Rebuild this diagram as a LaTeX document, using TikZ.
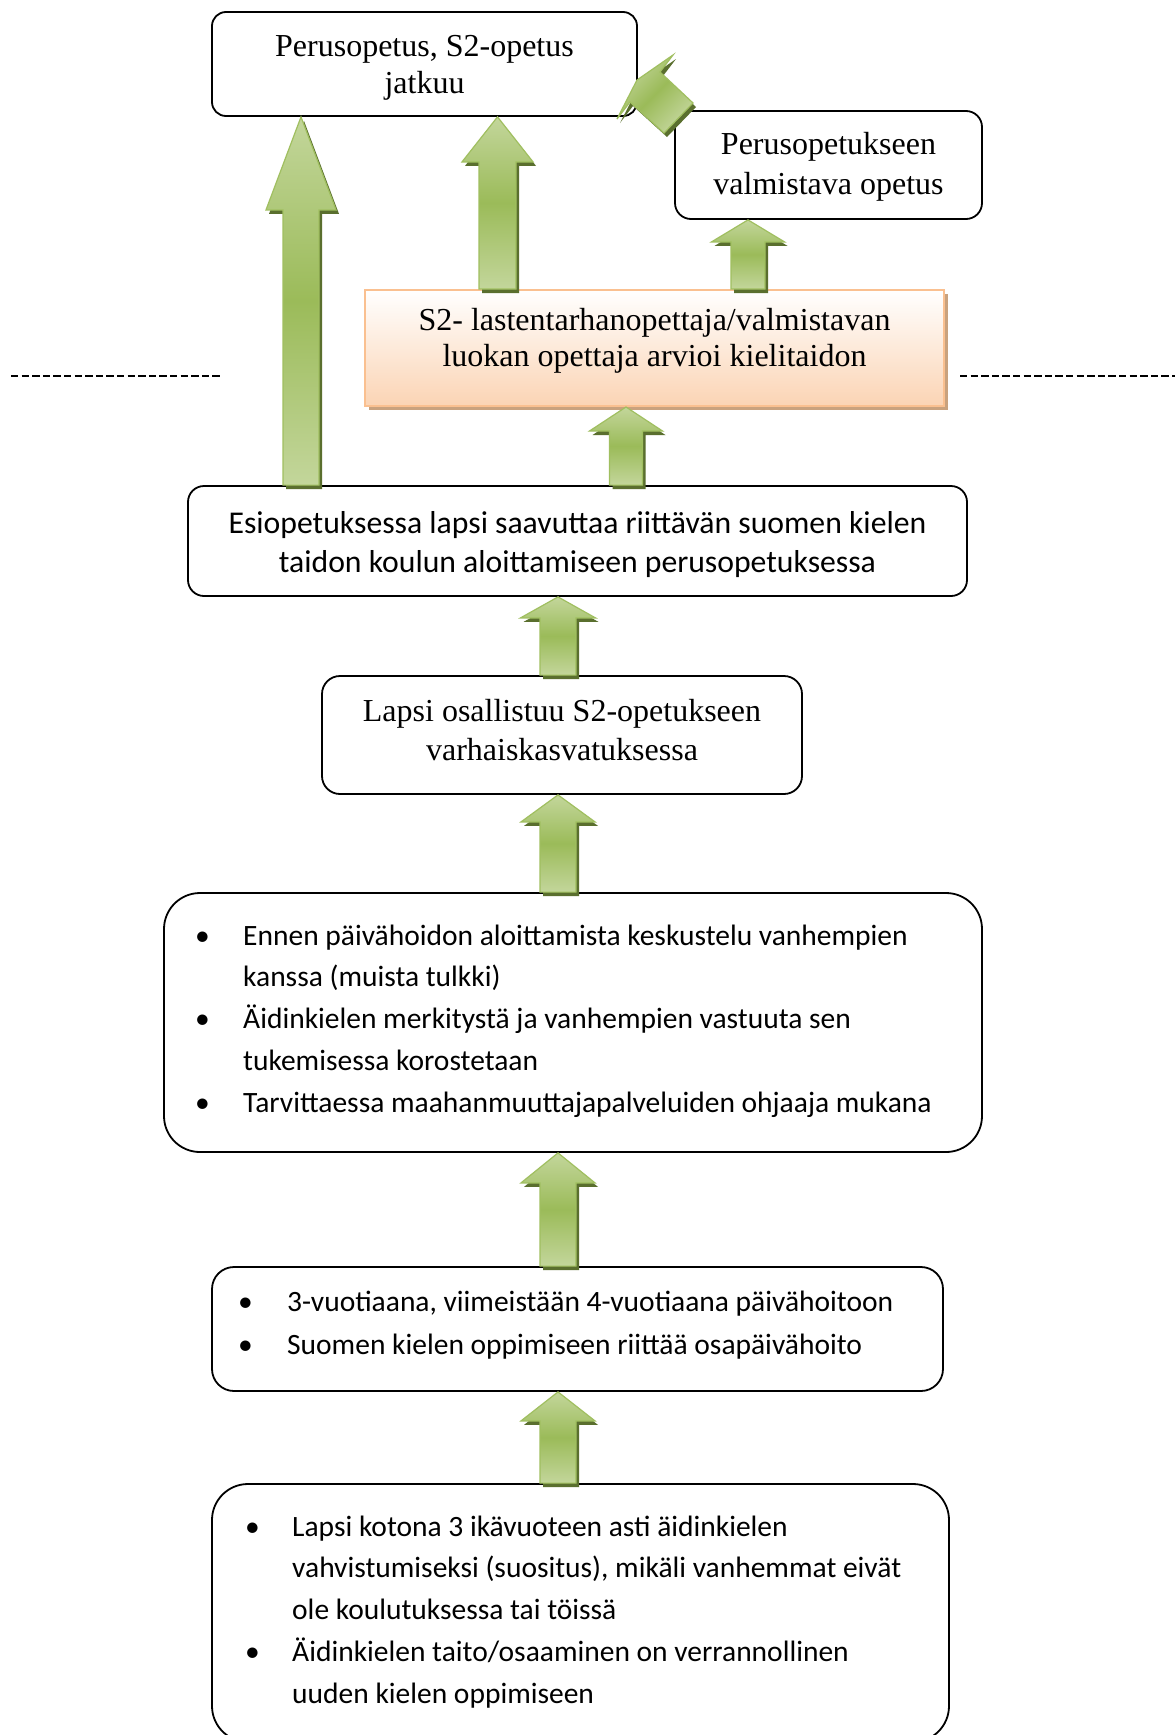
\documentclass[tikz,border=0pt]{standalone}
\usepackage{fontspec}
\setmainfont{Liberation Serif}
\newfontfamily\sansf{Carlito}
\usetikzlibrary{calc}
\definecolor{gl}{HTML}{C3D69B}
\definecolor{gd}{HTML}{9BBB59}
\definecolor{gline}{HTML}{A0BF60}
\definecolor{gsh}{HTML}{5A6F2E}
\definecolor{ol}{HTML}{FBD4B4}
\definecolor{oline}{HTML}{FAC090}
\definecolor{osh}{HTML}{C9A27E}
\newcommand\garrow[6]{%
  \path[blockarr] let \p1=(#2.south), \p2=(#3.north) in
   (#1pt,\y1) -- ({#1pt+#5pt},{\y1-#4pt}) -- ({#1pt+#6pt},{\y1-#4pt})
   -- ({#1pt+#6pt},\y2) -- ({#1pt-#6pt},\y2) -- ({#1pt-#6pt},{\y1-#4pt})
   -- ({#1pt-#5pt},{\y1-#4pt}) -- cycle;}
\begin{document}
\begin{tikzpicture}[x=1pt,y=-1pt,
  rbox/.style={draw=black, line width=1.8pt, fill=white, rectangle, rounded corners=#1, inner sep=0pt},
  obox/.style={draw=oline, line width=2pt, rectangle, inner sep=0pt, top color=white, bottom color=ol,
     preaction={fill=osh, transform canvas={shift={(4pt,-4pt)}}}},
  serift/.style={font=\fontsize{32}{#1}\selectfont, align=center, inner sep=0pt},
  sanst/.style={font=\sansf\fontsize{31.7}{#1}\selectfont, align=center, inner sep=0pt},
  bul/.style={font=\sansf\fontsize{29.5}{#1}\selectfont, align=left, inner sep=0pt, anchor=west},
  blockarr/.style={draw=gline, line width=1.2pt, line join=miter, top color=gl, bottom color=gl, middle color=gd,
     preaction={fill=gsh, transform canvas={shift={(3pt,-4pt)}}}},
  diagarr/.style={draw=gline, line width=1.2pt, line join=miter, top color=gl, bottom color=gl, middle color=gd, shading angle=45,
     preaction={fill=gsh, transform canvas={shift={(3pt,-4pt)}}}},
  dashline/.style={draw=black, line width=2.5pt, dash pattern=on 7.3pt off 3.3pt}
]
\path[use as bounding box, fill=white] (0,0) rectangle (1175,1735);
\clip (0,0) rectangle (1175,1735);

% boxes
\node[rbox=14, minimum width=425pt, minimum height=104pt] (top) at (424.5,64) {};
\node[rbox=16, minimum width=307pt, minimum height=108pt] (val) at (828.5,165) {};
\node[obox, minimum width=579pt, minimum height=116pt] (org) at (654.5,348) {};
\node[rbox=16, minimum width=779pt, minimum height=110pt] (esio) at (577.5,541) {};
\node[rbox=18, minimum width=480pt, minimum height=118pt] (lapsi) at (562,735) {};
\node[rbox=36, minimum width=818pt, minimum height=259pt] (b1) at (573,1022.5) {};
\node[rbox=22, minimum width=731pt, minimum height=124pt] (b2) at (577.5,1329) {};
\node[rbox=36, minimum width=737pt, minimum height=258pt] (b3) at (580.5,1613) {};

% diagonal arrow from (val) to (top)
\path[diagarr] (637,80) -- (673,55) -- (660,72) -- (693,103) -- (664,133) -- (630,102) -- (617,119) -- cycle;

% texts
\node[serift=37] (ttop) at (424.5,67.8) {Perusopetus, S2-opetus\strut\\jatkuu\strut};
\node[serift=40] (tval) at (828.5,166.2) {Perusopetukseen\strut\\valmistava opetus\strut};
\node[serift=36.5] (torg) at (654.5,341.3) {S2- lastentarhanopettaja/valmistavan\strut\\luokan opettaja arvioi kielitaidon\strut};
\node[sanst=39] (tesio) at (577.5,544.8) {Esiopetuksessa lapsi saavuttaa riittävän suomen kielen\strut\\taidon koulun aloittamiseen perusopetuksessa\strut};
\node[serift=39] (tlapsi) at (562,732.8) {Lapsi osallistuu S2-opetukseen\strut\\varhaiskasvatuksessa\strut};
\node[bul=41.75] (tb1) at (195,1020.2) {\makebox[48pt][l]{\textbullet}Ennen päivähoidon aloittamista keskustelu vanhempien\strut\\
\hspace*{48pt}kanssa (muista tulkki)\strut\\
\makebox[48pt][l]{\textbullet}Äidinkielen merkitystä ja vanhempien vastuuta sen\strut\\
\hspace*{48pt}tukemisessa korostetaan\strut\\
\makebox[48pt][l]{\textbullet}Tarvittaessa maahanmuuttajapalveluiden ohjaaja mukana\strut};
\node[bul=43] (tb2) at (238,1324.7) {\makebox[49pt][l]{\textbullet}3-vuotiaana, viimeistään 4-vuotiaana päivähoitoon\strut\\
\makebox[49pt][l]{\textbullet}Suomen kielen oppimiseen riittää osapäivähoito\strut};
\node[bul=41.75] (tb3) at (245,1611.2) {\makebox[47pt][l]{\textbullet}Lapsi kotona 3 ikävuoteen asti äidinkielen\strut\\
\hspace*{47pt}vahvistumiseksi (suositus), mikäli vanhemmat eivät\strut\\
\hspace*{47pt}ole koulutuksessa tai töissä\strut\\
\makebox[47pt][l]{\textbullet}Äidinkielen taito/osaaminen on verrannollinen\strut\\
\hspace*{47pt}uuden kielen oppimiseen\strut};

% dashed separators
\draw[dashline] (11,376) -- (221,376);
\draw[dashline] (960,376) -- (1175,376);

% block arrows
\garrow{301}{top}{esio}{93}{35}{18}
\garrow{497.5}{top}{org}{45}{35.5}{18.5}
\garrow{626}{org}{esio}{24}{36.5}{16.5}
\garrow{748}{val}{org}{22}{36.5}{17}
\garrow{558}{esio}{lapsi}{21}{37.5}{18}
\garrow{558}{lapsi}{b1}{27}{37}{18}
\garrow{558}{b1}{b2}{30}{37}{18}
\garrow{558}{b2}{b3}{29}{37}{18}
\end{tikzpicture}
\end{document}
